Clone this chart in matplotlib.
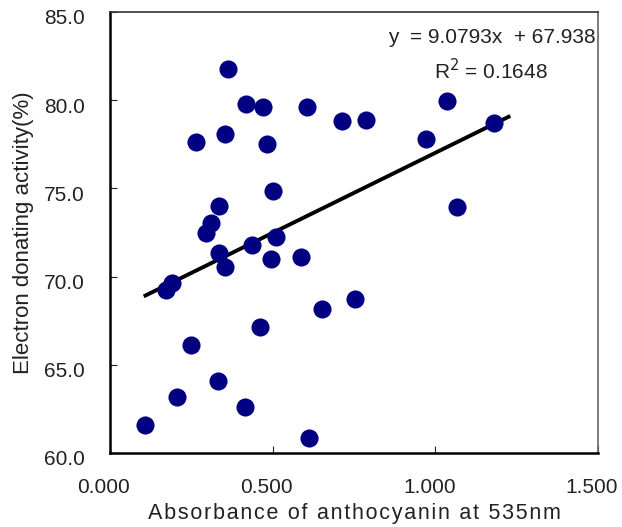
import matplotlib
matplotlib.use("Agg")
import matplotlib.pyplot as plt
import matplotlib.transforms as mtransforms
import numpy as np

# absorbance at 535 nm vs electron donating activity (%)
absorbance = [0.362, 0.417, 0.471, 0.607, 0.712, 0.786, 1.037, 1.180, 0.263, 0.355,
              0.484, 0.970, 0.502, 0.336, 1.068, 0.310, 0.294, 0.509, 0.436, 0.336,
              0.496, 0.587, 0.355, 0.190, 0.171, 0.651, 0.754, 0.460, 0.250, 0.331,
              0.207, 0.416, 0.109, 0.613]
activity = [81.75, 79.78, 79.60, 79.60, 78.80, 78.90, 79.94, 78.69, 77.65, 78.10,
            77.53, 77.78, 74.84, 74.02, 73.93, 73.06, 72.45, 72.23, 71.77, 71.36,
            70.98, 71.09, 70.56, 69.65, 69.24, 68.15, 68.71, 67.12, 66.10, 64.06,
            63.16, 62.59, 61.57, 60.87]

slope = 9.0793
intercept = 67.938
r_squared = 0.1648
trend_x = [0.109, 1.225]

x_ticks = [0.0, 0.5, 1.0, 1.5]
x_tick_labels = ["0.000", "0.500", "1.000", "1.500"]
y_ticks = [60, 65, 70, 75, 80, 85]
y_tick_labels = ["60.0", "65.0", "70.0", "75.0", "80.0", "85.0"]

plt.rcParams["font.family"] = ["Liberation Sans", "DejaVu Sans"]
text_color = "#222222"

fig = plt.figure(figsize=(6.22, 5.27), dpi=100)
ax = fig.add_axes([110 / 622, 1 - 453 / 527, 488 / 622, 441 / 527])

ax.scatter(absorbance, activity, s=170, color="#000080", zorder=3, linewidths=0)
tx = np.array(trend_x)
ax.plot(tx, slope * tx + intercept, color="black", linewidth=2.8, zorder=2)

ax.set_xlim(0, 1.5)
ax.set_ylim(60, 85)
ax.set_xticks(x_ticks)
ax.set_xticklabels(x_tick_labels)
ax.set_yticks(y_ticks)
ax.set_yticklabels(y_tick_labels)
ax.tick_params(direction="in", length=5, width=0.8, labelsize=15, colors=text_color)
ax.tick_params(axis="x", pad=18)
ax.tick_params(axis="y", pad=18)

# tick labels sit a little off their ticks in the original
yshift = mtransforms.ScaledTranslation(0, -5 / 100, fig.dpi_scale_trans)
for lbl in ax.get_yticklabels():
    lbl.set_transform(lbl.get_transform() + yshift)
xshift = mtransforms.ScaledTranslation(-6 / 100, 0, fig.dpi_scale_trans)
for lbl in ax.get_xticklabels():
    lbl.set_transform(lbl.get_transform() + xshift)

for side in ["left", "bottom"]:
    ax.spines[side].set_linewidth(1.8)
    ax.spines[side].set_color("black")
ax.spines["top"].set_linewidth(1.2)
ax.spines["top"].set_color("#333333")
ax.spines["right"].set_linewidth(1.2)
ax.spines["right"].set_color("#666666")

xlabel = "\u200a".join("Absorbance of anthocyanin at 535nm")
ax.set_xlabel(xlabel, fontsize=15.5, color=text_color)
ax.xaxis.set_label_coords(0.5, -50 / 441)
ax.set_ylabel("Electron donating activity(%)", fontsize=16, color=text_color)
ax.yaxis.set_label_coords(-76 / 488, 0.5)

ax.text(0.995, 0.942, f"y  = {slope}x  + {intercept}", transform=ax.transAxes,
        ha="right", va="center", fontsize=15, color=text_color)
ax.text(0.897, 0.868, f"R$^2$ = {r_squared}", transform=ax.transAxes,
        ha="right", va="center", fontsize=15, color=text_color)

fig.savefig("out.png", dpi=100)
